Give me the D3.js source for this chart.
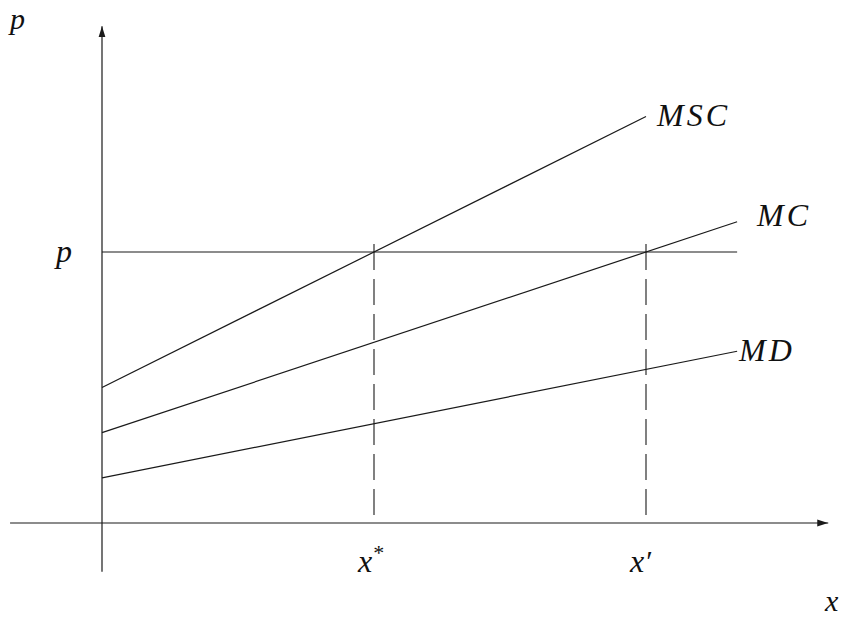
<!DOCTYPE html>
<html>
<head>
<meta charset="utf-8">
<script src="https://cdn.jsdelivr.net/npm/d3@7"></script>
<style>
  html, body { margin: 0; padding: 0; background: #fff; }
  svg { display: block; }
  .lbl { font-family: "Liberation Serif", "DejaVu Serif", serif; font-style: italic; font-size: 32px; fill: #111; }
</style>
</head>
<body>
<svg id="chart" width="843" height="619"></svg>
<script>
// Marginal curves: value = intercept + slope * x, drawn from x = 0 to the given end
const curveNames = ["MSC", "MC", "MD"];
const intercepts = [3, 2, 1];
const slopes = [1.5, 1, 0.6];
const curveEnds = [4, 4.67, 4.67];

// Price level and the two quantities marked on the x axis
const priceLevel = 6;
const priceLineEnd = 4.67;
const quantityValues = [2, 4];
const quantityLabels = ["x", "x"];
const quantityMarks = ["*", "\u2032"];

// Axis extents (data units)
const xAxisExtent = [-0.676, 5.34];
const yAxisExtent = [-1.08, 11.0];

const W = 843, H = 619;
const svg = d3.select("#chart");

const x = d3.scaleLinear().domain([0, 2]).range([102, 374]);
const y = d3.scaleLinear().domain([0, 6]).range([523, 252]);

const ink = "#1a1a1a";

// arrowhead marker
const defs = svg.append("defs");
defs.append("marker")
  .attr("id", "arrow")
  .attr("markerUnits", "userSpaceOnUse")
  .attr("viewBox", "0 -4 11 8")
  .attr("refX", 11).attr("refY", 0)
  .attr("markerWidth", 11).attr("markerHeight", 8)
  .attr("orient", "auto")
  .append("path")
  .attr("d", "M0,-3.4 L11,0 L0,3.4 Z")
  .attr("fill", ink);

// axes
svg.append("line")
  .attr("x1", x(xAxisExtent[0])).attr("y1", y(0))
  .attr("x2", x(xAxisExtent[1])).attr("y2", y(0))
  .attr("stroke", ink).attr("stroke-width", 1.2)
  .attr("marker-end", "url(#arrow)");
svg.append("line")
  .attr("x1", x(0)).attr("y1", y(yAxisExtent[0]))
  .attr("x2", x(0)).attr("y2", y(yAxisExtent[1]))
  .attr("stroke", ink).attr("stroke-width", 1.2)
  .attr("marker-end", "url(#arrow)");

// horizontal price line
svg.append("line")
  .attr("x1", x(0)).attr("y1", y(priceLevel))
  .attr("x2", x(priceLineEnd)).attr("y2", y(priceLevel))
  .attr("stroke", ink).attr("stroke-width", 1.1);

// dashed drop lines at the two quantities
svg.selectAll("line.drop")
  .data(quantityValues)
  .join("line")
  .attr("class", "drop")
  .attr("x1", d => x(d)).attr("x2", d => x(d))
  .attr("y1", y(priceLevel) - 8).attr("y2", y(0))
  .attr("stroke", ink).attr("stroke-width", 1.1)
  .attr("stroke-dasharray", "26,9");

// curves
const curves = curveNames.map((name, i) => ({
  name,
  pts: [[0, intercepts[i]], [curveEnds[i], intercepts[i] + slopes[i] * curveEnds[i]]]
}));
const line = d3.line().x(d => x(d[0])).y(d => y(d[1]));
svg.selectAll("path.curve")
  .data(curves)
  .join("path")
  .attr("class", "curve")
  .attr("d", d => line(d.pts))
  .attr("fill", "none")
  .attr("stroke", ink).attr("stroke-width", 1.2);

// curve labels, placed just beyond each curve's end
const labelShift = { MSC: [11, 9], MC: [20, 4], MD: [2, 10] };
svg.selectAll("text.curve-lbl")
  .data(curves)
  .join("text")
  .attr("class", "lbl curve-lbl")
  .attr("x", d => x(d.pts[1][0]) + labelShift[d.name][0])
  .attr("y", d => y(d.pts[1][1]) + labelShift[d.name][1])
  .attr("letter-spacing", "3px")
  .text(d => d.name);

// quantity labels under the x axis
const qLbl = svg.selectAll("text.q-lbl")
  .data(quantityValues)
  .join("text")
  .attr("class", "lbl q-lbl")
  .attr("x", d => x(d) - 16)
  .attr("y", y(0) + 49);
qLbl.append("tspan").text((d, i) => quantityLabels[i]);
qLbl.append("tspan")
  .attr("dx", (d, i) => i === 0 ? 1 : 2)
  .attr("dy", (d, i) => i === 0 ? -12 : -1)
  .style("font-size", (d, i) => i === 0 ? "22px" : "30px")
  .style("font-style", "normal")
  .text((d, i) => quantityMarks[i]);

// price label at the price line
svg.append("text").attr("class", "lbl")
  .attr("x", x(0) - 46).attr("y", y(priceLevel) + 10)
  .text("p");

// axis titles
svg.append("text").attr("class", "lbl")
  .attr("x", x(0) - 92).attr("y", y(yAxisExtent[1]) + 3)
  .style("font-size", "30px")
  .text("p");
svg.append("text").attr("class", "lbl")
  .attr("x", 825).attr("y", y(0) + 88)
  .style("font-size", "30px")
  .text("x");
</script>
</body>
</html>
